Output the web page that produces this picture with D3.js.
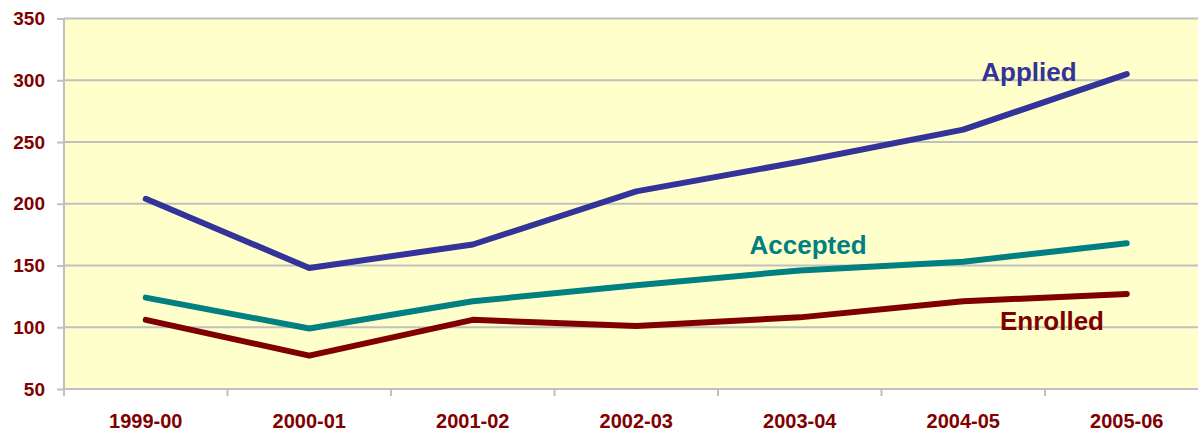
<!DOCTYPE html>
<html>
<head>
<meta charset="utf-8">
<script src="https://cdn.jsdelivr.net/npm/d3@7"></script>
<style>
	body { margin: 0; background: #fff; }
	svg { display: block; font-family: Arial, "Liberation Sans", sans-serif; }
</style>
</head>
<body>
<div id="chart"></div>
<script>
// data
const years = ['1999-00', '2000-01', '2001-02', '2002-03', '2003-04', '2004-05', '2005-06'];
const applied = [204, 148, 167, 210, 234, 260, 305];
const accepted = [124, 99, 121, 134, 146, 153, 168];
const enrolled = [106, 77, 106, 101, 108, 121, 127];
const yTicks = [50, 100, 150, 200, 250, 300, 350];

const W = 1198, H = 431;
const plotLeft = 64, plotTop = 18.5, plotBottom = 389;
const bandW = 163.5; // plot runs off the right edge of the picture

const svg = d3.select('#chart').append('svg').attr('width', W).attr('height', H);

const scaleX = d3.scaleBand().domain(years).range([plotLeft, plotLeft + bandW * years.length]).padding(0);
const scaleY = d3.scaleLinear().domain([50, 350]).range([plotBottom, plotTop]);

// plot background
svg.append('rect')
	.attr('x', plotLeft).attr('y', plotTop)
	.attr('width', bandW * years.length).attr('height', plotBottom - plotTop)
	.attr('fill', '#ffffcc');

// gridlines
svg.append('g').selectAll('line').data(yTicks).join('line')
	.attr('x1', plotLeft).attr('x2', plotLeft + bandW * years.length)
	.attr('y1', d => scaleY(d)).attr('y2', d => scaleY(d))
	.attr('stroke', '#c0c0c0').attr('stroke-width', 2);

// y axis
const yAxis = svg.append('g').attr('transform', `translate(${plotLeft},0)`)
	.call(d3.axisLeft(scaleY).tickValues(yTicks).tickSize(7).tickSizeOuter(0).tickPadding(12));
yAxis.select('.domain').attr('stroke', '#c0c0c0').attr('stroke-width', 2)
	.attr('d', `M0,${plotTop}V${plotBottom + 7}`);
yAxis.selectAll('.tick line').attr('stroke', '#c0c0c0').attr('stroke-width', 2);
yAxis.selectAll('.tick text')
	.attr('fill', '#800000').attr('font-size', 19).attr('font-weight', 'bold')
	.attr('font-family', 'Arial, "Liberation Sans", sans-serif');

// x axis ticks at band edges
const xAxis = svg.append('g').attr('transform', `translate(0,${plotBottom})`);
xAxis.selectAll('line').data(years.slice(1)).join('line')
	.attr('x1', d => scaleX(d)).attr('x2', d => scaleX(d))
	.attr('y1', 0).attr('y2', 7)
	.attr('stroke', '#c0c0c0').attr('stroke-width', 2);
xAxis.selectAll('text').data(years).join('text')
	.attr('x', d => scaleX(d) + scaleX.bandwidth() / 2)
	.attr('y', 39)
	.attr('text-anchor', 'middle')
	.attr('fill', '#800000').attr('font-size', 20).attr('font-weight', 'bold')
	.text(d => d);

// lines
const line = d3.line()
	.x((d, i) => scaleX(years[i]) + scaleX.bandwidth() / 2)
	.y(d => scaleY(d));

const series = [
	{name: 'Applied', values: applied, color: '#333399', lx: 1029, ly: 81},
	{name: 'Accepted', values: accepted, color: '#008080', lx: 808, ly: 254},
	{name: 'Enrolled', values: enrolled, color: '#800000', lx: 1052, ly: 330}
];

series.forEach(function(s){
	svg.append('path')
		.attr('d', line(s.values))
		.attr('fill', 'none')
		.attr('stroke', s.color)
		.attr('stroke-width', 6)
		.attr('stroke-linecap', 'round')
		.attr('stroke-linejoin', 'round');
});

// series labels
series.forEach(function(s){
	svg.append('text')
		.attr('x', s.lx).attr('y', s.ly)
		.attr('text-anchor', 'middle')
		.attr('fill', s.color)
		.attr('font-size', 26).attr('font-weight', 'bold')
		.text(s.name);
});
</script>
</body>
</html>
